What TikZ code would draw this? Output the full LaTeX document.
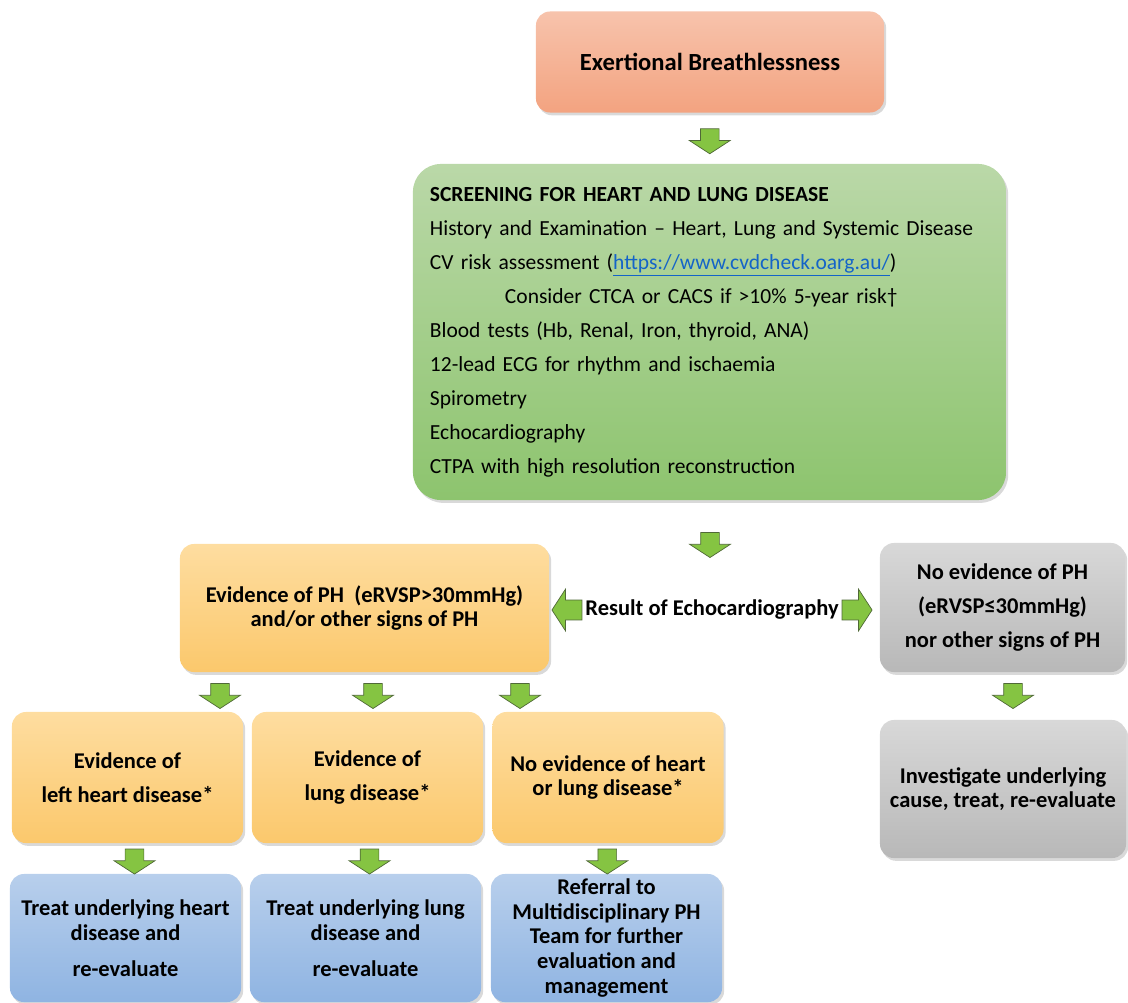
\documentclass[tikz,border=0pt]{standalone}
\usepackage{fontspec}
\setmainfont{Carlito}
\usepackage{xcolor}
\usetikzlibrary{positioning,calc,shapes.arrows,shadows}

\definecolor{salmontop}{RGB}{247,195,172}
\definecolor{salmonbot}{RGB}{243,163,128}
\definecolor{greentop}{RGB}{186,216,168}
\definecolor{greenbot}{RGB}{141,196,110}
\definecolor{orangetop}{RGB}{254,221,160}
\definecolor{orangebot}{RGB}{251,200,108}
\definecolor{greytop}{RGB}{216,216,216}
\definecolor{greybot}{RGB}{184,184,184}
\definecolor{bluetop}{RGB}{184,207,236}
\definecolor{bluebot}{RGB}{143,180,226}
\definecolor{arrowgreen}{RGB}{133,196,66}
\definecolor{arrowedge}{RGB}{80,105,55}
\definecolor{linkblue}{RGB}{20,100,200}

\begin{document}
\begin{tikzpicture}[x=0.025cm, y=-0.025cm,
            box/.style={rectangle, rounded corners=0.35cm, align=center, inner sep=2pt,
                 font=\bfseries\fontsize{16}{24}\selectfont,
                 drop shadow={shadow xshift=1.5pt, shadow yshift=-2pt, opacity=0.3}},
            tight/.style={font=\bfseries\fontsize{16}{17.6}\selectfont},
            start/.style={box, top color=salmontop, bottom color=salmonbot},
            screen/.style={box, top color=greentop, bottom color=greenbot, rounded corners=0.7cm,
                 align=left, font=\fontsize{15.3}{24.2}\selectfont},
            yesbox/.style={box, top color=orangetop, bottom color=orangebot},
            nobox/.style={box, top color=greytop, bottom color=greybot},
            treat/.style={box, tight, top color=bluetop, bottom color=bluebot},
            blockarrow/.style={single arrow, draw=arrowedge, line width=0.5pt, fill=arrowgreen,
                 inner sep=0pt, single arrow head extend=0.275cm, single arrow tip angle=114,
                 single arrow head indent=0pt},
            darrow/.style={blockarrow, rotate=-90, minimum height=0.625cm, minimum width=1cm,
                 inner ysep=0.225cm},
            harrow/.style={blockarrow, minimum height=0.75cm, minimum width=1.05cm,
                 inner ysep=0.24cm}
            ]
            \useasboundingbox (0,0) rectangle (1128,1003);

            % Nodes with manual coordinates
            \node[start, minimum width=8.7cm, minimum height=2.525cm, font=\bfseries\fontsize{17.5}{24}\selectfont] (breath) at (710,62) {Exertional Breathlessness};
            \node[screen, text width=13.975cm, inner xsep=0.425cm, minimum height=8.4cm] (screen) at (709.5,332) {%
                \textbf{SCREENING FOR HEART AND LUNG DISEASE}\\
                History and Examination – Heart, Lung and Systemic Disease\\
                CV risk assessment (\textcolor{linkblue}{\underline{https://www.cvdcheck.oarg.au/}})\\
                \hspace*{1.875cm}Consider CTCA or CACS if >10\% 5-year risk†\\
                Blood tests (Hb, Renal, Iron, thyroid, ANA)\\
                12-lead ECG for rhythm and ischaemia\\
                Spirometry\\
                Echocardiography\\
                CTPA with high resolution reconstruction};
            \node[yesbox, tight, minimum width=9.225cm, minimum height=3.2cm] (ph) at (364.5,608) {Evidence of PH\ \ (eRVSP>30mmHg)\\and/or other signs of PH};
            \node[font=\bfseries\fontsize{16}{24}\selectfont, inner sep=0pt] (result) at (712,610) {Result of Echocardiography};
            \node[nobox, minimum width=6.125cm, minimum height=3.225cm] (noph) at (1002.5,607.5) {No evidence of PH\\(eRVSP≤30mmHg)\\nor other signs of PH};
            \node[yesbox, minimum width=5.775cm, minimum height=3.275cm] (heart) at (127.5,777.5) {Evidence of\\left heart disease*};
            \node[yesbox, minimum width=5.775cm, minimum height=3.275cm] (lung) at (367.5,777.5) {Evidence of\\lung disease*};
            \node[yesbox, tight, minimum width=5.775cm, minimum height=3.275cm] (neither) at (608,777.5) {No evidence of heart\\or lung disease*};
            \node[nobox, tight, minimum width=6.15cm, minimum height=3.45cm] (investigate) at (1003,789) {Investigate underlying\\cause, treat, re-evaluate};
            \node[treat, minimum width=5.775cm, minimum height=3.2cm] (treatheart) at (125.5,938) {Treat underlying heart\\disease and\\[8pt]re-evaluate};
            \node[treat, minimum width=5.775cm, minimum height=3.2cm] (treatlung) at (365.5,938) {Treat underlying lung\\disease and\\[8pt]re-evaluate};
            \node[treat, minimum width=5.775cm, minimum height=3.2cm] (referral) at (606.5,938) {Referral to\\Multidisciplinary PH\\Team for further\\evaluation and\\management};

            % Arrows
            \node[darrow] (a1) at ($(breath.south)!0.5!(screen.north)$) {};
            \node[darrow] (a2) at (710,542) {};
            \node[harrow, rotate=180, left=2pt of result, anchor=west] (a3) {};
            \node[harrow, right=2pt of result] (a4) {};
            \node[darrow] (a5) at (220,693) {};
            \node[darrow] (a6) at (373,693) {};
            \node[darrow] (a7) at (520,693) {};
            \node[darrow] (a8) at (1013,693) {};
            \node[darrow] (a9) at ($(heart.south)!0.5!(treatheart.north)+(8,0)$) {};
            \node[darrow] (a10) at ($(lung.south)!0.5!(treatlung.north)+(3,0)$) {};
            \node[darrow] (a11) at ($(neither.south)!0.5!(referral.north)$) {};
        \end{tikzpicture}
\end{document}
